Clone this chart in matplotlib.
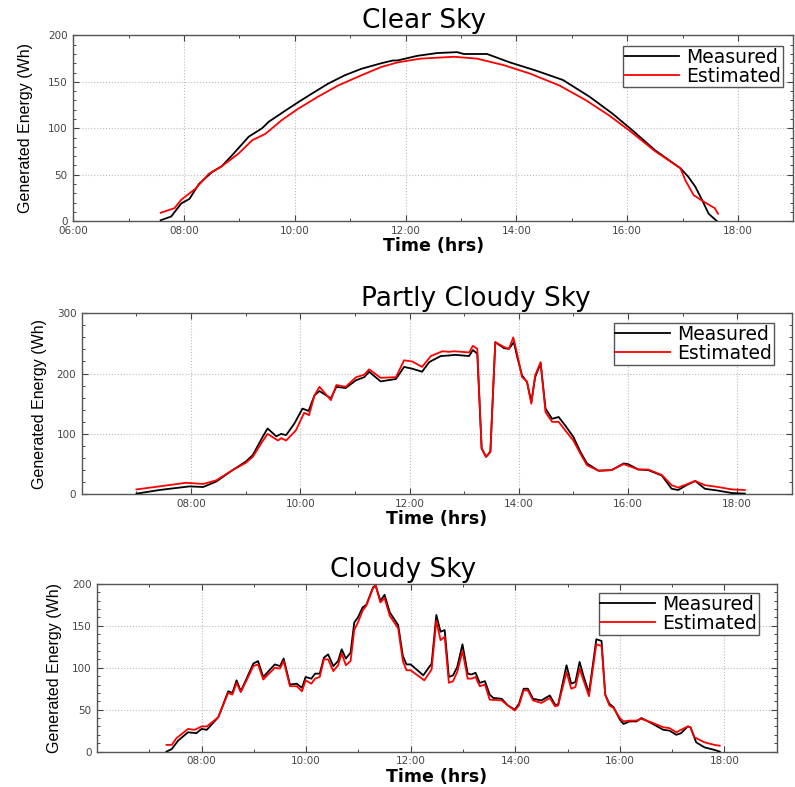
import matplotlib
matplotlib.use("Agg")
import matplotlib.pyplot as plt
from matplotlib.ticker import MultipleLocator
from matplotlib import font_manager

# ---- data (hours of day, Wh) ----
clear_t_meas = [7.58, 7.77, 7.86, 7.95, 8.10, 8.27, 8.51, 8.68, 8.87, 9.17,
                9.41, 9.53, 9.83, 10.06, 10.30, 10.60, 10.90, 11.20, 11.56, 11.77,
                11.85, 12.21, 12.57, 12.93, 13.05, 13.47, 13.88, 14.36, 14.84, 15.32,
                15.73, 16.09, 16.51, 16.96, 17.10, 17.23, 17.35, 17.47, 17.62]
clear_v_meas = [1, 5, 12, 19, 24, 40, 53, 59, 71, 91,
                100, 107, 119, 128, 137, 148, 157, 164, 170, 173,
                173, 178, 181, 182, 180, 180, 171, 162, 152, 134,
                116, 98, 76, 57, 48, 37, 23, 8, 0]
clear_t_est = [7.58, 7.83, 7.95, 8.21, 8.45, 8.68, 8.99, 9.23, 9.47, 9.77,
               10.06, 10.42, 10.78, 11.20, 11.56, 11.86, 12.27, 12.87, 13.29, 13.77,
               14.24, 14.78, 15.26, 15.67, 16.03, 16.51, 16.96, 17.05, 17.20, 17.38,
               17.58, 17.64]
clear_v_est = [9, 14, 23, 35, 51, 59, 73, 87, 94, 109,
               121, 134, 146, 157, 166, 171, 175, 177, 175, 168,
               159, 146, 130, 114, 98, 75, 57, 44, 28, 21,
               14, 8]

partly_t_meas = [7.00, 7.42, 7.97, 8.22, 8.46, 8.76, 9.00, 9.13, 9.31, 9.40,
                 9.56, 9.65, 9.74, 9.89, 10.04, 10.15, 10.26, 10.35, 10.56, 10.66,
                 10.83, 11.02, 11.17, 11.26, 11.47, 11.75, 11.90, 12.05, 12.23, 12.36,
                 12.57, 12.72, 12.84, 13.09, 13.16, 13.24, 13.32, 13.40, 13.48, 13.57,
                 13.73, 13.82, 13.91, 13.97, 14.06, 14.15, 14.23, 14.30, 14.40, 14.49,
                 14.61, 14.73, 14.85, 15.00, 15.13, 15.25, 15.46, 15.70, 15.92, 16.00,
                 16.19, 16.37, 16.62, 16.80, 16.92, 17.07, 17.23, 17.41, 17.65, 17.90,
                 18.14]
partly_v_meas = [1, 7, 13, 12, 21, 40, 54, 65, 95, 109,
                 96, 100, 98, 117, 142, 138, 164, 171, 159, 178,
                 176, 189, 194, 203, 187, 191, 211, 208, 203, 219,
                 229, 230, 231, 229, 239, 233, 76, 62, 70, 252,
                 242, 241, 252, 228, 197, 186, 153, 194, 217, 142,
                 125, 128, 114, 95, 70, 51, 39, 40, 51, 50,
                 41, 40, 31, 9, 7, 15, 22, 9, 6, 2,
                 1]
partly_t_est = [7.00, 7.42, 7.91, 8.22, 8.46, 8.76, 9.00, 9.13, 9.31, 9.40,
                9.59, 9.65, 9.74, 9.92, 10.07, 10.16, 10.26, 10.35, 10.56, 10.66,
                10.83, 11.02, 11.17, 11.26, 11.47, 11.75, 11.90, 12.05, 12.23, 12.39,
                12.60, 12.72, 12.81, 13.09, 13.16, 13.24, 13.32, 13.40, 13.48, 13.57,
                13.73, 13.82, 13.90, 13.97, 14.06, 14.15, 14.23, 14.30, 14.40, 14.49,
                14.61, 14.73, 14.85, 15.00, 15.13, 15.25, 15.46, 15.70, 15.92, 16.19,
                16.37, 16.62, 16.80, 16.92, 17.23, 17.41, 17.65, 17.90, 18.14]
partly_v_est = [8, 13, 19, 17, 23, 40, 52, 62, 88, 100,
                89, 93, 89, 106, 135, 131, 164, 178, 156, 181,
                178, 194, 198, 207, 193, 194, 222, 220, 211, 229,
                237, 236, 237, 235, 246, 241, 76, 62, 71, 252,
                244, 241, 260, 233, 194, 187, 150, 197, 219, 136,
                120, 120, 106, 89, 67, 48, 39, 40, 50, 41,
                41, 32, 15, 11, 22, 15, 12, 8, 7]

cloudy_t_meas = [7.33, 7.43, 7.55, 7.74, 7.90, 8.00, 8.10, 8.32, 8.51, 8.59,
                 8.67, 8.75, 8.86, 8.99, 9.08, 9.18, 9.40, 9.50, 9.57, 9.69,
                 9.82, 9.92, 9.99, 10.10, 10.17, 10.26, 10.34, 10.42, 10.52, 10.61,
                 10.68, 10.76, 10.85, 10.92, 10.99, 11.08, 11.15, 11.28, 11.33, 11.42,
                 11.50, 11.60, 11.76, 11.85, 11.92, 12.00, 12.24, 12.40, 12.49, 12.57,
                 12.65, 12.73, 12.81, 12.89, 12.99, 13.09, 13.16, 13.24, 13.32, 13.42,
                 13.51, 13.58, 13.74, 13.86, 13.99, 14.07, 14.16, 14.24, 14.34, 14.50,
                 14.66, 14.76, 14.82, 14.98, 15.07, 15.15, 15.23, 15.31, 15.41, 15.55,
                 15.65, 15.72, 15.80, 15.88, 16.00, 16.07, 16.19, 16.32, 16.41, 16.60,
                 16.83, 16.95, 17.08, 17.17, 17.30, 17.35, 17.46, 17.62, 17.81, 17.91]
cloudy_v_meas = [0, 3, 13, 23, 22, 27, 26, 41, 72, 70,
                 85, 72, 87, 105, 108, 89, 104, 102, 111, 80,
                 81, 76, 89, 87, 93, 93, 112, 116, 102, 108,
                 122, 111, 118, 154, 160, 172, 175, 196, 198, 180,
                 187, 166, 151, 114, 104, 104, 91, 105, 163, 143,
                 145, 89, 91, 101, 128, 93, 92, 94, 82, 84,
                 68, 64, 63, 55, 50, 57, 75, 75, 63, 61,
                 67, 56, 56, 103, 81, 83, 107, 89, 70, 134,
                 132, 68, 57, 53, 38, 33, 36, 36, 40, 34,
                 26, 25, 20, 22, 30, 29, 11, 5, 2, 0]
cloudy_t_est = [7.33, 7.43, 7.52, 7.74, 7.87, 8.00, 8.10, 8.32, 8.51, 8.59,
                8.67, 8.75, 8.86, 8.99, 9.08, 9.18, 9.40, 9.50, 9.57, 9.69,
                9.82, 9.92, 9.99, 10.10, 10.17, 10.26, 10.34, 10.42, 10.52, 10.61,
                10.68, 10.76, 10.85, 10.92, 10.99, 11.08, 11.15, 11.28, 11.33, 11.42,
                11.50, 11.60, 11.76, 11.85, 11.92, 12.00, 12.26, 12.40, 12.49, 12.57,
                12.65, 12.73, 12.81, 12.89, 12.99, 13.09, 13.16, 13.24, 13.32, 13.42,
                13.51, 13.74, 13.86, 13.99, 14.07, 14.16, 14.24, 14.34, 14.50, 14.66,
                14.76, 14.82, 14.98, 15.07, 15.15, 15.23, 15.31, 15.41, 15.55, 15.65,
                15.72, 15.80, 15.88, 16.00, 16.07, 16.19, 16.32, 16.41, 16.60, 16.83,
                16.95, 17.08, 17.17, 17.30, 17.35, 17.43, 17.62, 17.81, 17.91]
cloudy_v_est = [8, 8, 16, 27, 26, 30, 30, 41, 70, 68,
                82, 71, 85, 102, 104, 86, 100, 99, 108, 78,
                78, 72, 85, 81, 87, 89, 110, 110, 96, 103,
                117, 103, 108, 145, 154, 168, 174, 195, 198, 178,
                183, 162, 147, 108, 97, 97, 85, 98, 156, 133,
                137, 82, 84, 95, 120, 87, 87, 89, 78, 80,
                62, 61, 55, 49, 55, 73, 73, 61, 58, 64,
                54, 55, 95, 75, 77, 99, 84, 66, 128, 126,
                68, 55, 52, 40, 36, 37, 37, 39, 35, 29,
                28, 23, 26, 30, 29, 17, 11, 8, 7]

titles = ["Clear Sky", "Partly Cloudy Sky", "Cloudy Sky"]
y_max = [200, 300, 200]
y_major = [50, 100, 50]
y_minor = [10, 20, 10]
x_tick_hours = [[6, 8, 10, 12, 14, 16, 18], [8, 10, 12, 14, 16, 18], [8, 10, 12, 14, 16, 18]]

series = [
    (clear_t_meas, clear_v_meas, clear_t_est, clear_v_est),
    (partly_t_meas, partly_v_meas, partly_t_est, partly_v_est),
    (cloudy_t_meas, cloudy_v_meas, cloudy_t_est, cloudy_v_est),
]

# axes boxes in figure fraction [left, bottom, width, height]
boxes = [
    [0.092, 0.719, 0.906, 0.236],
    [0.103, 0.372, 0.893, 0.230],
    [0.122, 0.045, 0.855, 0.213],
]
ylabel_x = [-0.056, -0.049, -0.051]
title_x = [0.4875, 0.555, 0.451]
legend_anchor = [(0.986, 0.945), (0.975, 0.945), (0.974, 0.945)]

# narrow face for the y labels, if one is installed
installed = {f.name for f in font_manager.fontManager.ttflist}
narrow = [n for n in ["Liberation Sans Narrow", "Arial Narrow", "DejaVu Sans Condensed"] if n in installed]
if narrow:
    ylab_font = dict(family=[narrow[0], "DejaVu Sans"], fontsize=13)
else:
    ylab_font = dict(family=["Liberation Sans", "DejaVu Sans"], fontsize=11.5)

fig = plt.figure(figsize=(7.95, 7.87), dpi=100)

for i in range(3):
    ax = fig.add_axes(boxes[i])
    tm, vm, te, ve = series[i]
    ax.plot(tm, vm, color="black", lw=1.3, label="Measured", zorder=3)
    ax.plot(te, ve, color="#ff0000", lw=1.3, label="Estimated", zorder=3)

    ax.set_xlim(6, 19)
    ax.set_ylim(0, y_max[i])
    ax.set_xticks(x_tick_hours[i])
    ax.set_xticklabels(["%02d:00" % h for h in x_tick_hours[i]])
    ax.xaxis.set_minor_locator(MultipleLocator(1))
    ax.yaxis.set_major_locator(MultipleLocator(y_major[i]))
    ax.yaxis.set_minor_locator(MultipleLocator(y_minor[i]))

    ax.tick_params(which="both", direction="in", top=True, right=True,
                   colors="#444444", labelsize=7.5)
    ax.tick_params(axis="x", pad=3.5)
    ax.tick_params(axis="y", pad=4)
    ax.tick_params(which="major", length=4, width=0.8)
    ax.tick_params(which="minor", length=2.5, width=0.7)
    for s in ax.spines.values():
        s.set_color("#555555")
        s.set_linewidth(1.0)

    ax.grid(True, which="major", linestyle=":", color="#bbbbbb", lw=0.8)

    ax.set_title(titles[i], fontsize=19, pad=5, x=title_x[i])
    ax.set_xlabel("Time (hrs)", fontsize=12.5, fontweight="bold", labelpad=1)
    ax.set_ylabel("Generated Energy (Wh)", **ylab_font)
    ax.yaxis.set_label_coords(ylabel_x[i], 0.5)

    leg = ax.legend(loc="upper right", bbox_to_anchor=legend_anchor[i],
                    fontsize=13.5, fancybox=False, framealpha=1,
                    edgecolor="#555555", handlelength=2.9, borderpad=0.1,
                    labelspacing=0.0, handletextpad=0.4, borderaxespad=0)
    leg.get_frame().set_linewidth(1.0)

fig.savefig("out.png", dpi=100)
